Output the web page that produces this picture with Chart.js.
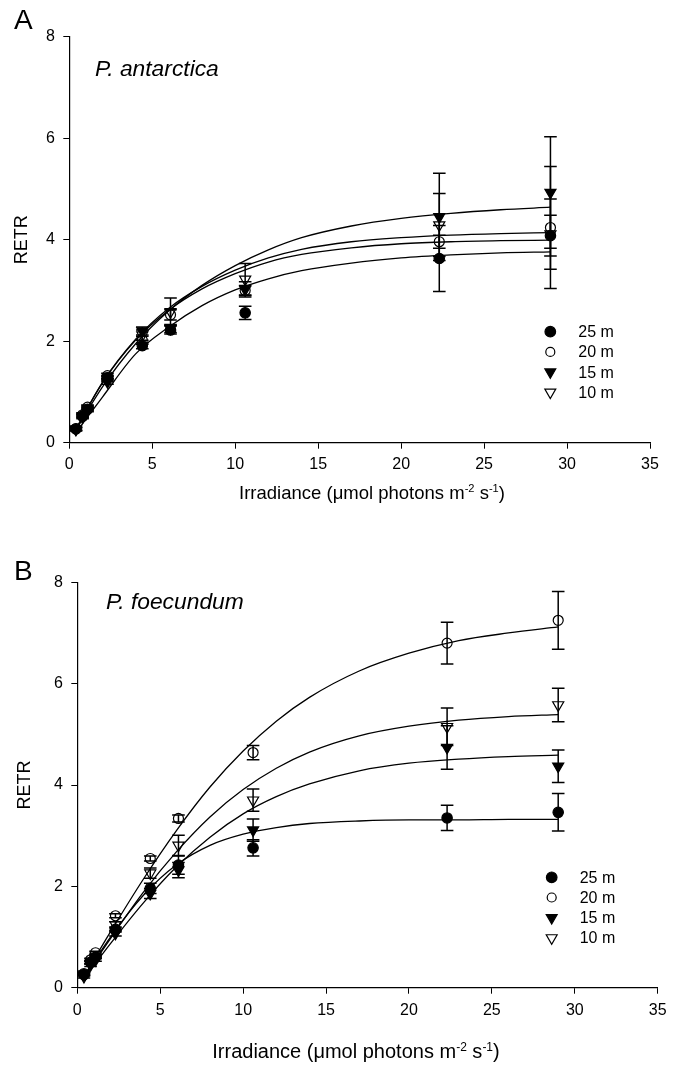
<!DOCTYPE html>
<html lang="en">
<head>
  <meta charset="UTF-8" />
  <title>RETR vs irradiance</title>
  <script src="https://cdn.jsdelivr.net/npm/chart.js"></script>
  <style>
    * { margin: 0; padding: 0; box-sizing: border-box; }
    body {
      width: 677px; height: 1067px; background: #fff; color: #000;
      font-family: 'Liberation Sans', Arial, sans-serif;
      position: relative; overflow: hidden;
    }
    .panel { position: absolute; left: 0; width: 677px; }
    #panelA { top: 0; height: 530px; }
    #panelB { top: 540px; height: 527px; }
    .label { position: absolute; line-height: 1; white-space: nowrap; }
    .letter { font-size: 28px; left: 14px; }
    .species { font-size: 22.8px; font-style: italic; }
    .xtitle { transform: translateX(-50%); }
    .xtitle sup { font-size: 0.6em; vertical-align: baseline; position: relative; top: -0.6em; }
  </style>
</head>
<body>

  <div class="panel" id="panelA"><canvas id="chartA"></canvas></div>
  <div class="panel" id="panelB"><canvas id="chartB"></canvas></div>

  <div class="label letter" style="top:6px">A</div>
  <div class="label letter" style="top:557px">B</div>
  <div class="label species" style="left:95px;top:57px">P. antarctica</div>
  <div class="label species" style="left:106px;top:590px">P. foecundum</div>
  <div class="label xtitle" style="left:372px;top:484px;font-size:18.5px">Irradiance (&mu;mol photons m<sup>-2</sup> s<sup>-1</sup>)</div>
  <div class="label xtitle" style="left:356px;top:1041px;font-size:20px">Irradiance (&mu;mol photons m<sup>-2</sup> s<sup>-1</sup>)</div>

  <script>
    // measured irradiance levels and depths
    const irradiance = [0.4, 0.8, 1.1, 2.3, 4.4, 6.1, 10.6, 22.3, 29.0];
    const depths = ['25 m', '20 m', '15 m', '10 m'];
    const xTicks = [0, 5, 10, 15, 20, 25, 30, 35];
    const yTicks = [0, 2, 4, 6, 8];

    // P. antarctica means and errors
    const aMean25 = [0.27, 0.52, 0.66, 1.28, 1.91, 2.22, 2.56, 3.63, 4.08];
    const aMean20 = [0.28, 0.55, 0.70, 1.32, 2.02, 2.52, 3.00, 3.96, 4.24];
    const aMean15 = [0.26, 0.50, 0.64, 1.20, 2.20, 2.25, 3.02, 4.45, 4.93];
    const aMean10 = [0.27, 0.53, 0.68, 1.25, 2.12, 2.58, 3.22, 4.29, 4.11];
    const aErr25 = [0.03, 0.03, 0.03, 0.05, 0.06, 0.08, 0.13, 0.65, 0.40];
    const aErr20 = [0.03, 0.03, 0.04, 0.05, 0.08, 0.10, 0.10, 0.13, 1.20];
    const aErr15 = [0.03, 0.03, 0.03, 0.05, 0.08, 0.08, 0.15, 0.86, 1.10];
    const aErr10 = [0.03, 0.03, 0.03, 0.05, 0.10, 0.27, 0.31, 0.62, 0.69];

    // P. foecundum means and errors
    const bMean25 = [0.26, 0.50, 0.60, 1.15, 1.96, 2.42, 2.76, 3.35, 3.46];
    const bMean20 = [0.28, 0.55, 0.69, 1.42, 2.55, 3.34, 4.64, 6.80, 7.25];
    const bMean15 = [0.22, 0.45, 0.55, 1.07, 1.86, 2.32, 3.11, 4.74, 4.37];
    const bMean10 = [0.27, 0.50, 0.62, 1.24, 2.26, 2.81, 3.70, 5.15, 5.58];
    const bErr25 = [0.03, 0.03, 0.03, 0.05, 0.10, 0.18, 0.16, 0.25, 0.37];
    const bErr20 = [0.02, 0.03, 0.03, 0.04, 0.05, 0.07, 0.14, 0.41, 0.57];
    const bErr15 = [0.03, 0.03, 0.03, 0.05, 0.10, 0.15, 0.22, 0.43, 0.32];
    const bErr10 = [0.03, 0.03, 0.03, 0.06, 0.10, 0.20, 0.22, 0.37, 0.33];

    // fitted curves
    const fitX = [0.4, 2, 4, 6, 8, 10, 12, 14, 17, 20, 23, 26, 29];
    const aFit25 = [0.20, 0.90, 1.75, 2.28, 2.70, 3.01, 3.23, 3.39, 3.54, 3.64, 3.70, 3.74, 3.76];
    const aFit20 = [0.27, 1.18, 2.02, 2.61, 3.03, 3.33, 3.56, 3.71, 3.84, 3.92, 3.96, 3.98, 3.99];
    const aFit15 = [0.25, 1.10, 1.95, 2.60, 3.10, 3.49, 3.80, 4.04, 4.27, 4.42, 4.52, 4.59, 4.64];
    const aFit10 = [0.27, 1.19, 2.04, 2.65, 3.08, 3.40, 3.64, 3.81, 3.96, 4.04, 4.09, 4.12, 4.14];
    const bFit25 = [0.21, 1.00, 1.83, 2.43, 2.81, 3.03, 3.16, 3.24, 3.29, 3.31, 3.31, 3.32, 3.32];
    const bFit20 = [0.22, 1.10, 2.15, 3.11, 3.96, 4.67, 5.26, 5.73, 6.25, 6.60, 6.85, 7.00, 7.12];
    const bFit15 = [0.18, 0.87, 1.68, 2.39, 2.97, 3.43, 3.77, 4.02, 4.28, 4.43, 4.51, 4.56, 4.59];
    const bFit10 = [0.20, 0.97, 1.89, 2.69, 3.37, 3.91, 4.33, 4.65, 4.97, 5.16, 5.28, 5.35, 5.39];

    const FONT = "'Liberation Sans', Arial, sans-serif";
    // 25 m filled circle, 20 m open circle, 15 m filled down triangle, 10 m open down triangle
    const markers = [
      { style: 'circle', filled: true, r: 5.2, lr: 5.3 },
      { style: 'circle', filled: false, r: 5.0, lr: 4.5 },
      { style: 'triangle', filled: true, r: 6.4, lr: 6.3 },
      { style: 'triangle', filled: false, r: 6.4, lr: 6.3 }
    ];

    function toPoints(xs, ys) {
      return xs.map((x, i) => ({ x: x, y: ys[i] }));
    }

    function drawMarker(ctx, m, x, y, r) {
      ctx.beginPath();
      if (m.style === 'circle') {
        ctx.arc(x, y, r, 0, Math.PI * 2);
      } else {
        ctx.moveTo(x - r * 0.866, y - r * 0.5);
        ctx.lineTo(x + r * 0.866, y - r * 0.5);
        ctx.lineTo(x, y + r);
        ctx.closePath();
      }
      if (m.filled) ctx.fill();
      ctx.stroke();
    }

    // vertical error bars with caps, drawn under the markers
    const errorBars = {
      id: 'errorBars',
      beforeDatasetsDraw(chart) {
        const ctx = chart.ctx;
        const xs = chart.scales.x, ys = chart.scales.y;
        ctx.save();
        ctx.strokeStyle = '#000';
        ctx.lineWidth = 1.5;
        chart.data.datasets.forEach(ds => {
          if (!ds.err) return;
          ds.data.forEach((p, i) => {
            const px = xs.getPixelForValue(p.x);
            const top = ys.getPixelForValue(p.y + ds.err[i]);
            const bot = ys.getPixelForValue(p.y - ds.err[i]);
            ctx.beginPath();
            ctx.moveTo(px, top); ctx.lineTo(px, bot);
            ctx.moveTo(px - 6.3, top); ctx.lineTo(px + 6.3, top);
            ctx.moveTo(px - 6.3, bot); ctx.lineTo(px + 6.3, bot);
            ctx.stroke();
          });
        });
        ctx.restore();
      }
    };

    // legend box inside the plot area
    const insideLegend = {
      id: 'insideLegend',
      afterDraw(chart, args, opts) {
        const ctx = chart.ctx;
        const area = chart.chartArea;
        ctx.save();
        ctx.fillStyle = '#000';
        ctx.strokeStyle = '#000';
        ctx.lineWidth = 1.2;
        ctx.font = opts.fontSize + 'px ' + FONT;
        ctx.textBaseline = 'middle';
        depths.forEach((name, i) => {
          const y = area.top + opts.dy + i * opts.gap;
          drawMarker(ctx, markers[i], area.left + opts.dx, y, markers[i].lr);
          ctx.fillText(name, area.left + opts.textDx, y + 1);
        });
        ctx.restore();
      }
    };

    function makePanel(id, means, errs, fits, geo) {
      const datasets = [];
      fits.forEach((f, i) => {
        datasets.push({
          label: depths[i] + ' fit',
          data: toPoints(fitX, f),
          showLine: true,
          borderColor: '#000',
          borderWidth: 1.3,
          pointRadius: 0,
          cubicInterpolationMode: 'monotone',
          order: 2
        });
      });
      means.forEach((m, i) => {
        const mk = markers[i];
        datasets.push({
          label: depths[i],
          data: toPoints(irradiance, m),
          err: errs[i],
          pointStyle: mk.style,
          pointRotation: mk.style === 'triangle' ? 180 : 0,
          pointRadius: mk.r,
          pointBorderWidth: 1.2,
          pointBorderColor: '#000',
          pointBackgroundColor: mk.filled ? '#000' : 'rgba(0,0,0,0)',
          showLine: false,
          order: 1
        });
      });

      return new Chart(document.getElementById(id), {
        type: 'scatter',
        data: { datasets: datasets },
        plugins: [errorBars, insideLegend],
        options: {
          responsive: true,
          maintainAspectRatio: false,
          animation: false,
          layout: { padding: geo.padding },
          plugins: {
            legend: { display: false },
            tooltip: { enabled: false },
            insideLegend: { dx: geo.legendDx, textDx: geo.legendDx + 28, dy: 295, gap: 20.2, fontSize: 16 }
          },
          scales: {
            x: {
              type: 'linear',
              min: xTicks[0],
              max: xTicks[xTicks.length - 1],
              afterBuildTicks: s => { s.ticks = xTicks.map(v => ({ value: v })); },
              afterFit: s => { s.height = geo.xHeight; },
              grid: { drawOnChartArea: false, drawTicks: true, tickLength: 6, color: '#000' },
              border: { display: true, color: '#000', width: 1.2 },
              ticks: { color: '#000', padding: geo.xPad, maxRotation: 0, font: { family: FONT, size: geo.tickSize } }
            },
            y: {
              min: yTicks[0],
              max: yTicks[yTicks.length - 1],
              afterBuildTicks: s => { s.ticks = yTicks.map(v => ({ value: v })); },
              afterFit: s => { s.width = geo.yWidth; },
              grid: { drawOnChartArea: false, drawTicks: true, tickLength: 6, color: '#000' },
              border: { display: true, color: '#000', width: 1.2 },
              ticks: { color: '#000', padding: 8.5, font: { family: FONT, size: geo.tickSize } },
              title: {
                display: true,
                text: 'RETR',
                color: '#000',
                padding: { top: 4, bottom: 4 },
                font: { family: FONT, size: geo.titleSize }
              }
            }
          }
        }
      });
    }

    makePanel('chartA',
      [aMean25, aMean20, aMean15, aMean10],
      [aErr25, aErr20, aErr15, aErr10],
      [aFit25, aFit20, aFit15, aFit10],
      { padding: { left: 7, top: 36.7, right: 27, bottom: 0 }, yWidth: 62.3, xHeight: 87.3,
        xPad: 6.6, tickSize: 16, titleSize: 18, legendDx: 481 });

    makePanel('chartB',
      [bMean25, bMean20, bMean15, bMean10],
      [bErr25, bErr20, bErr15, bErr10],
      [bFit25, bFit20, bFit15, bFit10],
      { padding: { left: 10.6, top: 42.3, right: 19.3, bottom: 0 }, yWidth: 66.7, xHeight: 79.3,
        xPad: 7.4, tickSize: 16, titleSize: 18, legendDx: 474.4 });
  </script>
</body>
</html>
